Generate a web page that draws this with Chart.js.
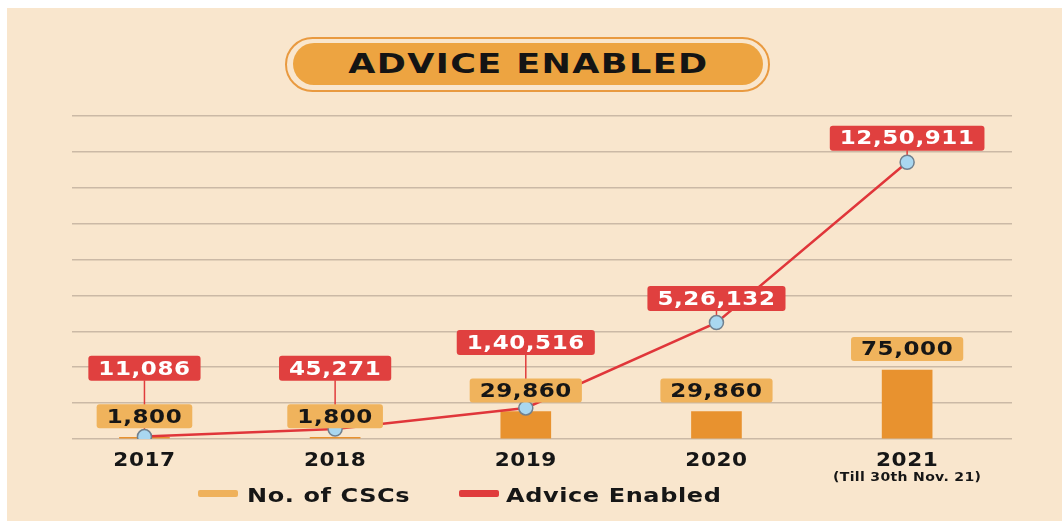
<!DOCTYPE html>
<html>
<head>
<meta charset="utf-8">
<script src="https://cdn.jsdelivr.net/npm/chart.js@4.4.0/dist/chart.umd.min.js"></script>
<style>
    html, body { margin: 0; padding: 0; background: #ffffff; }
    #wrap { position: relative; width: 1062px; height: 524px; overflow: hidden; }
    #paper { position: absolute; left: 7px; top: 8px; width: 1055px; height: 513px; background: #f9e6cd; }
    #pillOuter { position: absolute; left: 285px; top: 37px; width: 485px; height: 55px; box-sizing: border-box;
        border: 2px solid #e99a40; border-radius: 28px; }
    #pillInner { position: absolute; left: 293px; top: 43px; width: 470px; height: 42px; border-radius: 21px;
        background: #eda441; display: flex; align-items: center; justify-content: center; }
    #pillInner span { font: bold 26px "DejaVu Sans"; letter-spacing: 1px; color: #141414; transform: scaleX(1.35); display: inline-block; }
    .leg { position: absolute; top: 483px; font: bold 20px "DejaVu Sans"; letter-spacing: 0.5px; color: #161616; line-height: 24px;
        transform: scaleX(1.2); transform-origin: left center; white-space: nowrap; }
    .sw { position: absolute; top: 490px; height: 7px; width: 40px; border-radius: 2px; }
    canvas { position: absolute; left: 0; top: 0; }
</style>
</head>
<body>
<div id="wrap">
    <div id="paper"></div>
    <div id="pillOuter"></div>
    <div id="pillInner"><span>ADVICE ENABLED</span></div>
    <canvas id="myChart" width="1062" height="524"></canvas>
    <div class="sw" style="left:198px;background:#efb15b"></div>
    <div class="leg" style="left:247px">No. of CSCs</div>
    <div class="sw" style="left:459px;background:#e03c3c"></div>
    <div class="leg" style="left:506px">Advice Enabled</div>
</div>

<script>
// du lieu doc tu hinh
const years = ['2017', '2018', '2019', '2020', '2021'];
const yearNotes = ['', '', '', '', '(Till 30th Nov. 21)'];
const cscCounts = [1800, 1800, 29860, 29860, 75000];
const adviceEnabled = [11086, 45271, 140516, 526132, 1250911];

const fmt = v => v.toLocaleString('en-IN');

function roundBox(ctx, cx, cy, w, h, fill) {
    ctx.beginPath();
    ctx.roundRect(cx - w / 2, cy - h / 2, w, h, 3);
    ctx.fillStyle = fill;
    ctx.fill();
}

// chu rong hon (font goc la loai chu bè)
function wideText(ctx, t, x, y, sx) {
    ctx.save();
    ctx.translate(x, y);
    ctx.scale(sx, 1);
    ctx.fillText(t, 0, 0);
    ctx.restore();
}

const labelPlugin = {
    id: 'labelPlugin',
    beforeDatasetsDraw(chart) {
        // duong noi tu nhan do xuong diem
        const ctx = chart.ctx;
        const bars = chart.getDatasetMeta(0).data;
        const pts = chart.getDatasetMeta(1).data;
        ctx.save();
        ctx.strokeStyle = '#e03c3c';
        ctx.lineWidth = 1.5;
        pts.forEach((p, i) => {
            const barLabelY = bars[i].y - 21;
            const labelY = Math.min(p.y - 24, barLabelY - 48);
            ctx.beginPath();
            ctx.moveTo(p.x, labelY + 12);
            ctx.lineTo(p.x, p.y);
            ctx.stroke();
        });
        ctx.restore();
    },
    afterDatasetsDraw(chart) {
        const ctx = chart.ctx;
        const bars = chart.getDatasetMeta(0).data;
        const pts = chart.getDatasetMeta(1).data;
        const sx = 1.15;
        ctx.save();
        ctx.font = 'bold 20px "DejaVu Sans"';
        ctx.letterSpacing = '0.5px';
        ctx.textAlign = 'center';
        ctx.textBaseline = 'middle';

        // nhan cot
        bars.forEach((b, i) => {
            const y = b.y - 21;
            const t = fmt(cscCounts[i]);
            const w = ctx.measureText(t).width * sx + 20;
            roundBox(ctx, b.x, y, w, 24, '#f0b35c');
            ctx.fillStyle = '#161616';
            wideText(ctx, t, b.x, y + 1, sx);
        });

        // nhan duong
        pts.forEach((p, i) => {
            const barLabelY = bars[i].y - 21;
            const y = Math.min(p.y - 24, barLabelY - 48);
            const t = fmt(adviceEnabled[i]);
            const w = ctx.measureText(t).width * sx + 20;
            roundBox(ctx, p.x, y, w, 25, '#e0403f');
            ctx.fillStyle = '#ffffff';
            wideText(ctx, t, p.x, y + 1, sx);
        });

        // nhan truc x
        const xs = chart.scales.x;
        years.forEach((yr, i) => {
            const x = xs.getPixelForValue(i);
            ctx.font = 'bold 20px "DejaVu Sans"';
            ctx.letterSpacing = '0.5px';
            ctx.fillStyle = '#161616';
            wideText(ctx, yr, x, 461, 1.08);
            if (yearNotes[i]) {
                ctx.font = 'bold 13px "DejaVu Sans"';
                ctx.letterSpacing = '0.3px';
                wideText(ctx, yearNotes[i], x, 478, 1.08);
            }
        });
        ctx.restore();
    }
};

const ctx = document.getElementById('myChart').getContext('2d');
const myChart = new Chart(ctx, {
    data: {
        datasets: [{
            type: 'bar',
            label: 'No. of CSCs',
            data: cscCounts.map((v, i) => ({ x: i, y: v })),
            backgroundColor: '#e8922f',
            barThickness: 50,
            yAxisID: 'yBar',
            order: 1
        }, {
            type: 'line',
            label: 'Advice Enabled',
            data: adviceEnabled.map((v, i) => ({ x: i, y: v })),
            borderColor: '#e0363a',
            borderWidth: 2.5,
            pointRadius: 7,
            pointBackgroundColor: '#a9d7f0',
            pointBorderColor: '#71808e',
            pointBorderWidth: 1.5,
            tension: 0,
            yAxisID: 'yLine',
            order: 0
        }]
    },
    options: {
        responsive: false,
        animation: false,
        devicePixelRatio: 1,
        layout: { padding: { left: 72, right: 50, top: 116, bottom: 85 } },
        plugins: {
            legend: { display: false },
            tooltip: { enabled: false }
        },
        scales: {
            x: {
                type: 'linear',
                min: -0.38,
                max: 4.55,
                offset: false,
                display: false
            },
            yBar: {
                position: 'left',
                min: 0,
                max: 351000,
                ticks: { display: false, stepSize: 39000 },
                grid: { color: '#cbb9a6', lineWidth: 1.5, drawTicks: false },
                border: { display: false }
            },
            yLine: {
                position: 'right',
                min: 0,
                max: 1460000,
                display: false
            }
        }
    },
    plugins: [labelPlugin]
});
</script>
</body>
</html>
